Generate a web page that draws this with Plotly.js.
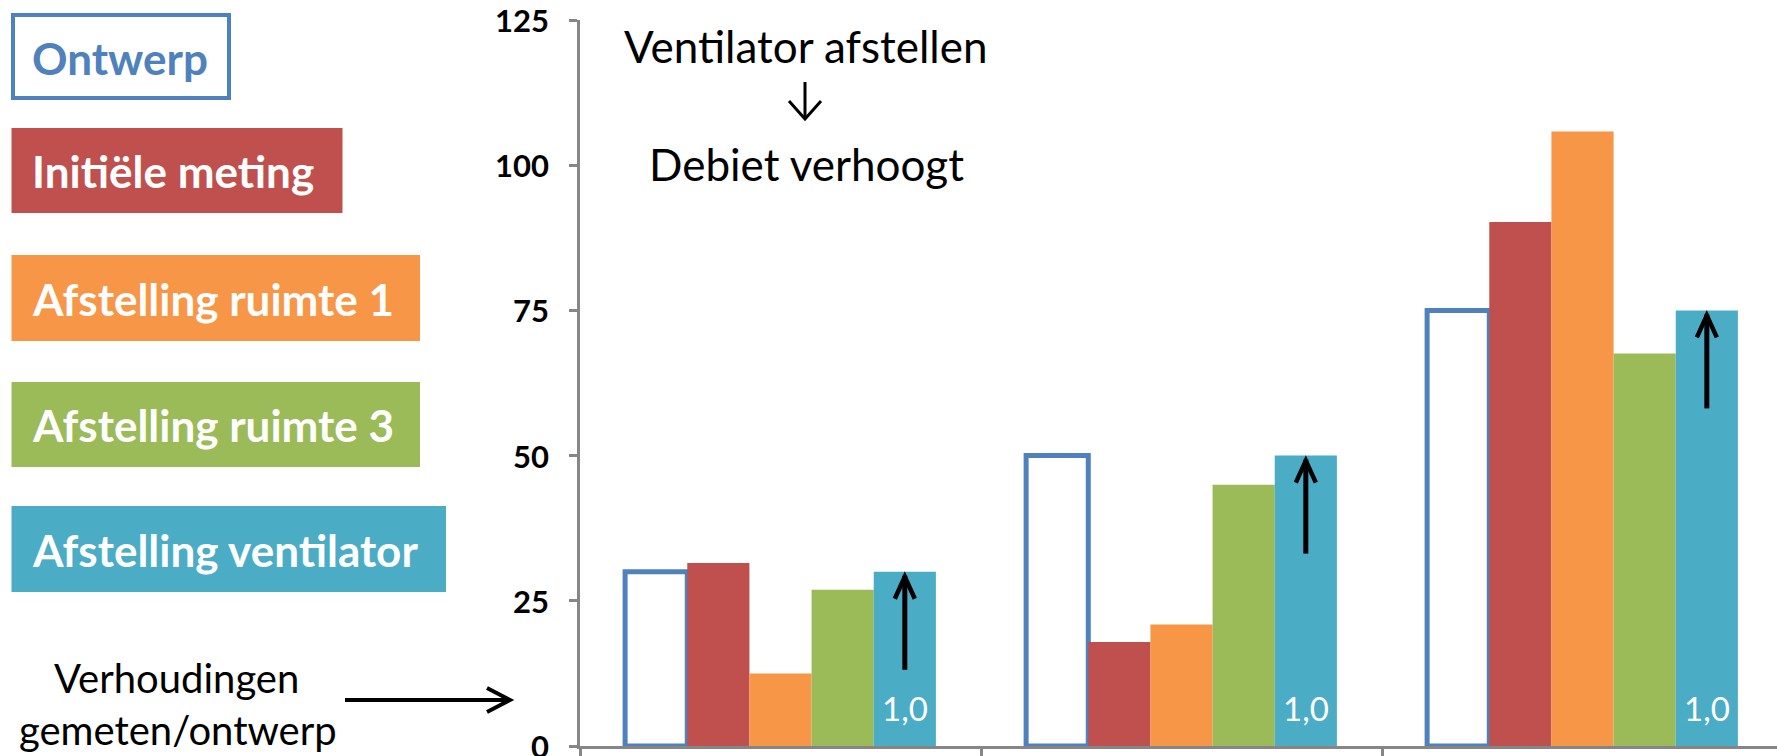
<!DOCTYPE html>
<html>
<head>
<meta charset="utf-8">
<script src="https://cdn.plot.ly/plotly-3.0.1.min.js"></script>
<style>html,body{margin:0;padding:0;background:#fff;}#chart{width:1777px;height:756px;}</style>
</head>
<body>
<div id="chart"></div>
<script>
// ---- data ----
const categories = ['Ruimte 1', 'Ruimte 2', 'Ruimte 3'];
const seriesNames = ['Ontwerp', 'Initiële meting', 'Afstelling ruimte 1', 'Afstelling ruimte 3', 'Afstelling ventilator'];
const ontwerp = [30, 50, 75];
const initieleMeting = [31.5, 17.9, 90.2];
const afstellingRuimte1 = [12.5, 20.9, 105.8];
const afstellingRuimte3 = [26.9, 45.0, 67.6];
const afstellingVentilator = [30, 50, 75];
const yTickValues = [0, 25, 50, 75, 100, 125];
const yTickLabels = ['0', '25', '50', '75', '100', '125'];
const topNote = ['Ventilator afstellen', 'Debiet verhoogt'];
const ratioNote = ['Verhoudingen', 'gemeten/ontwerp'];

// ---- styles ----
const colors = ['#4F81BD', '#C0504D', '#F79646', '#9BBB59', '#4BACC6'];
const FONT = 'Lato, Carlito, "Open Sans", sans-serif';
const W = 1777, H = 756, MT = 20, MB = 10, PLOT_LEFT = 580;
const BARGAP = 0.225;
const X = px => px / W;
const Y = py => (H - MB - py) / (H - MT - MB);

const seriesValues = [ontwerp, initieleMeting, afstellingRuimte1, afstellingRuimte3, afstellingVentilator];
const traces = seriesValues.map((vals, i) => ({
  type: 'bar',
  name: seriesNames[i],
  x: categories,
  y: vals,
  marker: i === 0
    ? {color: '#FFFFFF', line: {color: colors[0], width: 5}}
    : {color: colors[i], line: {width: 0}},
  hoverinfo: 'x+y+name'
}));

// position of the last bar in each group (category units)
const nS = seriesValues.length;
const barW = (1 - BARGAP) / nS;
const lastOffset = -(1 - BARGAP) / 2 + barW * (nS - 0.5);

const shapes = [];
const annotations = [];

// y tick labels (drawn as annotations so the edge labels are not dropped)
yTickValues.forEach((v, i) => {
  annotations.push({
    xref: 'paper', yref: 'y', x: X(551), y: v, xanchor: 'right', yanchor: 'middle',
    text: '<b>' + yTickLabels[i] + '</b>', showarrow: false,
    font: {family: FONT, size: 31, color: '#000000'}
  });
});

// legend boxes (left side)
const legendBoxes = [
  {x0: 13, x1: 229, y0: 15, y1: 98, cy: 58},
  {x0: 11.5, x1: 342.5, y0: 128, y1: 213, cy: 171},
  {x0: 11.5, x1: 420, y0: 255, y1: 341, cy: 299},
  {x0: 11.5, x1: 420, y0: 382, y1: 467, cy: 425},
  {x0: 11.5, x1: 446, y0: 506, y1: 592, cy: 550}
];
legendBoxes.forEach((b, i) => {
  shapes.push({
    type: 'rect', xref: 'paper', yref: 'paper',
    x0: X(b.x0), x1: X(b.x1), y0: Y(b.y1), y1: Y(b.y0),
    fillcolor: i === 0 ? '#FFFFFF' : colors[i],
    line: i === 0 ? {color: colors[0], width: 4} : {width: 0}
  });
  annotations.push({
    xref: 'paper', yref: 'paper', x: X(30), y: Y(b.cy), xanchor: 'left', yanchor: 'middle',
    text: '<b>' + seriesNames[i] + '</b>', showarrow: false,
    font: {family: FONT, size: 44, color: i === 0 ? colors[0] : '#FFFFFF'}
  });
});

// arrows + ratio labels on the last series
categories.forEach((c, k) => {
  const xc = k + lastOffset;
  const top = afstellingVentilator[k];
  shapes.push({
    type: 'line', xref: 'x', yref: 'y', xsizemode: 'pixel', ysizemode: 'pixel',
    xanchor: xc, yanchor: top, x0: 0, x1: 0, y0: -4, y1: -98,
    line: {color: '#000000', width: 5}
  });
  shapes.push({
    type: 'path', xref: 'x', yref: 'y', xsizemode: 'pixel', ysizemode: 'pixel',
    xanchor: xc, yanchor: top, path: 'M -10,-27 L 0,-5 L 10,-27',
    line: {color: '#000000', width: 4.5}
  });
  const ratio = (afstellingVentilator[k] / ontwerp[k]).toFixed(1).replace('.', ',');
  annotations.push({
    xref: 'x', yref: 'y', x: xc, y: 0, yanchor: 'middle', xanchor: 'center', yshift: 38,
    text: ratio, showarrow: false,
    font: {family: FONT, size: 33, color: '#FFFFFF'}
  });
});

// top note
annotations.push({xref: 'paper', yref: 'paper', x: X(805), y: Y(46), xanchor: 'center', yanchor: 'middle',
  text: topNote[0], showarrow: false, font: {family: FONT, size: 44, color: '#000000'}});
annotations.push({xref: 'paper', yref: 'paper', x: X(806), y: Y(164), xanchor: 'center', yanchor: 'middle',
  text: topNote[1], showarrow: false, font: {family: FONT, size: 44, color: '#000000'}});
shapes.push({type: 'path', xref: 'paper', yref: 'paper',
  path: `M ${X(805)},${Y(82)} L ${X(805)},${Y(119)}`, line: {color: '#000000', width: 3}});
shapes.push({type: 'path', xref: 'paper', yref: 'paper',
  path: `M ${X(789)},${Y(101)} L ${X(805)},${Y(119)} L ${X(821)},${Y(101)}`, line: {color: '#000000', width: 3}});

// bottom-left note
annotations.push({xref: 'paper', yref: 'paper', x: X(176), y: Y(678), xanchor: 'center', yanchor: 'middle',
  text: ratioNote[0], showarrow: false, font: {family: FONT, size: 40, color: '#000000'}});
annotations.push({xref: 'paper', yref: 'paper', x: X(178), y: Y(730), xanchor: 'center', yanchor: 'middle',
  text: ratioNote[1], showarrow: false, font: {family: FONT, size: 40, color: '#000000'}});
shapes.push({type: 'path', xref: 'paper', yref: 'paper',
  path: `M ${X(345)},${Y(700)} L ${X(508)},${Y(700)}`, line: {color: '#000000', width: 4}});
shapes.push({type: 'path', xref: 'paper', yref: 'paper',
  path: `M ${X(487)},${Y(688)} L ${X(510)},${Y(700)} L ${X(487)},${Y(712)}`, line: {color: '#000000', width: 4}});

const layout = {
  width: W, height: H,
  margin: {l: 0, r: 0, t: MT, b: MB, pad: 0},
  paper_bgcolor: '#FFFFFF', plot_bgcolor: '#FFFFFF',
  barmode: 'group', bargap: BARGAP, bargroupgap: 0,
  showlegend: false,
  xaxis: {
    type: 'category', domain: [PLOT_LEFT / W, 1], range: [-0.5, 2.485],
    showticklabels: false, showgrid: false, zeroline: false,
    showline: true, linecolor: '#868686', linewidth: 3,
    ticks: 'outside', tickson: 'boundaries', ticklen: 10, tickwidth: 3, tickcolor: '#868686'
  },
  yaxis: {
    range: [0, 125], tickvals: yTickValues, showticklabels: false,
    showgrid: false, zeroline: false,
    showline: true, linecolor: '#868686', linewidth: 3,
    ticks: 'outside', ticklen: 8, tickwidth: 3, tickcolor: '#868686'
  },
  shapes: shapes,
  annotations: annotations
};

Plotly.newPlot('chart', traces, layout, {displayModeBar: false, staticPlot: true});
</script>
</body>
</html>
